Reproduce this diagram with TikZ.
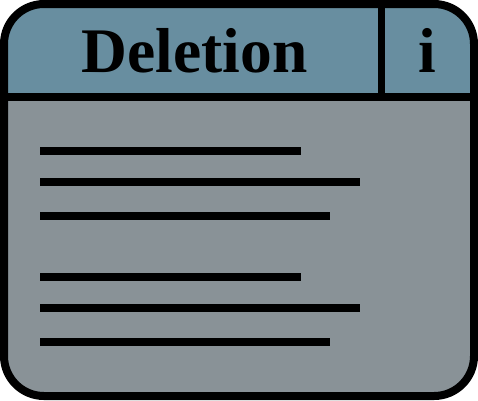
\documentclass[tikz,border=0pt]{standalone}
\usepackage{fontspec}
\setmainfont{Liberation Serif}
\definecolor{hdr}{RGB}{104,142,160}
\definecolor{bodyg}{RGB}{137,146,151}
\begin{document}
\begin{tikzpicture}[x=1pt,y=-1pt,
  rule/.style={line width=8pt,black},
  txt/.style={font=\fontsize{63.5}{63.5}\selectfont\bfseries,anchor=base,inner sep=0pt}]
\useasboundingbox (0,0) rectangle (478,400);
\begin{scope}
\clip[rounded corners=40pt] (4,4) rectangle (474,396);
\fill[bodyg] (0,0) rectangle (478,400);
\fill[hdr] (0,0) rectangle (478,97);
\end{scope}
\draw[rule] (4,97) -- (474,97);
\draw[rule,line width=7pt] (381.5,4) -- (381.5,97);
\draw[rule,rounded corners=40pt] (4,4) rectangle (474,396);
\node[txt] (title) at (194.5,72) {Deletion};
\node[txt] (info) at (427,72) {i};
\foreach \y/\e in {151/301,182/360,216/330,277/301,308/360,342/330}
  \draw[rule] (40,\y) -- (\e,\y);
\end{tikzpicture}
\end{document}
